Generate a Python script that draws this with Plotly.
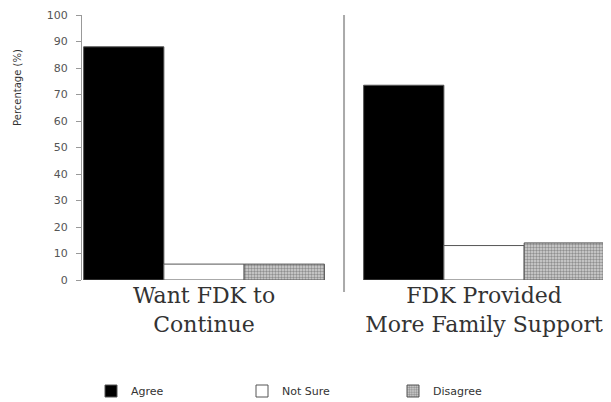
import plotly.graph_objects as go

categories = ["Want FDK to<br>Continue", "FDK Provided<br>More Family Support"]
cat_pos = [0, 1]
agree = [88, 73.5]
not_sure = [6, 13]
disagree = [6, 14]
y_ticks = [0, 10, 20, 30, 40, 50, 60, 70, 80, 90, 100]

fig = go.Figure()
fig.add_trace(go.Bar(name="Agree", x=cat_pos, y=agree,
                     marker=dict(color="#000000", line=dict(color="#555555", width=1))))
fig.add_trace(go.Bar(name="Not Sure", x=cat_pos, y=not_sure,
                     marker=dict(color="#ffffff", line=dict(color="#555555", width=1))))
fig.add_trace(go.Bar(name="Disagree", x=cat_pos, y=disagree,
                     marker=dict(color="#8a8a8a", line=dict(color="#555555", width=1),
                                 pattern=dict(shape=".", fgcolor="#4a4a4a", bgcolor="#d4d4d4",
                                              size=3, solidity=0.5))))

fig.add_shape(type="line", xref="x", yref="paper", x0=0.5, x1=0.5, y0=-0.045, y1=1.0,
              line=dict(color="#aaaaaa", width=2))

fig.add_annotation(text="Percentage (%)", textangle=-90, xref="paper", yref="y",
                   x=(18 - 82) / 523, y=72.5, showarrow=False, xanchor="center", yanchor="middle",
                   font=dict(family="DejaVu Sans", size=10, color="#333333"))

fig.update_layout(
    width=603, height=394,
    margin=dict(l=74, r=6, t=7, b=122),
    paper_bgcolor="white", plot_bgcolor="white",
    barmode="group", bargap=0.14, bargroupgap=0,
    showlegend=True,
    legend=dict(orientation="h", xref="container", yref="container",
                x=83 / 603, y=1 - 383 / 394, xanchor="left", yanchor="middle",
                entrywidth=106, entrywidthmode="pixels",
                font=dict(family="DejaVu Sans", size=11, color="#333333")),
    xaxis=dict(range=[-0.4357, 1.432], tickvals=cat_pos, ticktext=categories,
               showline=False, showgrid=False, zeroline=False, ticks="", automargin=False,
               ticklabeloverflow="allow",
               tickfont=dict(family="DejaVu Serif", size=22, color="#333333")),
    yaxis=dict(range=[0, 100], tickvals=y_ticks, showgrid=False, zeroline=False,
               showline=True, linecolor="#999999", linewidth=1, automargin=False,
               ticks="outside", ticklen=5, tickcolor="#999999", ticklabelstandoff=6,
               tickfont=dict(family="DejaVu Sans", size=11, color="#555555")),
)

fig.write_html("out.html")
